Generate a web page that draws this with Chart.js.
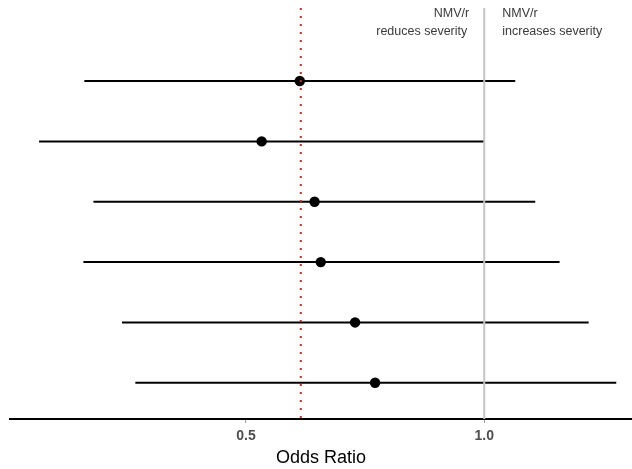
<!DOCTYPE html>
<html>
<head>
<meta charset="utf-8">
<script src="https://cdn.jsdelivr.net/npm/chart.js@4.4.1/dist/chart.umd.min.js"></script>
<style>
  html, body { margin: 0; padding: 0; background: #fff; }
  #wrap { width: 632px; height: 469px; position: relative; }
</style>
</head>
<body>
<div id="wrap"><canvas id="forest"></canvas></div>
<script>
// rows from top to bottom
var rows = [0, 1, 2, 3, 4, 5];
var oddsRatio = [0.613, 0.533, 0.644, 0.657, 0.729, 0.771];
var ciLower = [0.161, 0.066, 0.180, 0.159, 0.240, 0.268];
var ciUpper = [1.065, 1.000, 1.107, 1.158, 1.219, 1.277];
var xTicks = [0.5, 1.0];
var nullLine = 1.0;
var pooledLine = 0.615;
var leftNote = ['NMV/r', 'reduces severity'];
var rightNote = ['NMV/r', 'increases severity'];

var yMin = -1.21, yMax = 5.60;

var datasets = [];

// reference lines
datasets.push({
  data: [{x: nullLine, y: yMin}, {x: nullLine, y: yMax}],
  showLine: true, borderColor: '#c4c4c4', borderWidth: 2, pointRadius: 0
});
datasets.push({
  data: [{x: pooledLine, y: yMin}, {x: pooledLine, y: yMax}],
  showLine: true, borderColor: '#b8322a', borderWidth: 2, pointRadius: 0,
  borderDash: [2, 6]
});

// confidence intervals
rows.forEach(function(r, i) {
  datasets.push({
    data: [{x: ciLower[i], y: r}, {x: ciUpper[i], y: r}],
    showLine: true, borderColor: '#000', borderWidth: 2, pointRadius: 0
  });
});

// point estimates
datasets.push({
  data: rows.map(function(r, i) { return {x: oddsRatio[i], y: r}; }),
  showLine: false, pointRadius: 5.2, pointBackgroundColor: '#000', pointBorderWidth: 0
});

var notesPlugin = {
  id: 'notes',
  afterDatasetsDraw: function(chart) {
    var ctx = chart.ctx;
    var x = chart.scales.x.getPixelForValue(nullLine);
    ctx.save();
    ctx.font = '12.5px "Liberation Sans", Arial, sans-serif';
    ctx.fillStyle = '#3a3a3a';
    ctx.textBaseline = 'middle';
    ctx.textAlign = 'right';
    ctx.fillText(leftNote[0], x - 15, 14);
    ctx.fillText(leftNote[1], x - 17, 32);
    ctx.textAlign = 'left';
    ctx.fillText(rightNote[0], x + 18, 14);
    ctx.fillText(rightNote[1], x + 18, 32);
    ctx.restore();
  }
};

new Chart(document.getElementById('forest').getContext('2d'), {
  type: 'scatter',
  data: { datasets: datasets },
  plugins: [notesPlugin],
  options: {
    responsive: true,
    maintainAspectRatio: false,
    animation: false,
    layout: { autoPadding: false, padding: { left: 10, right: 0, top: 8, bottom: 0 } },
    plugins: { legend: { display: false }, tooltip: { enabled: false } },
    scales: {
      x: {
        type: 'linear',
        min: 0.005,
        max: 1.31,
        afterBuildTicks: function(axis) {
          axis.ticks = xTicks.map(function(v) { return {value: v}; });
        },
        border: { display: true, color: '#000', width: 2 },
        grid: { display: true, drawOnChartArea: false, drawTicks: true, tickLength: 4, tickColor: '#999' },
        ticks: {
          color: '#4d4d4d',
          font: { family: '"Liberation Sans", Arial, sans-serif', size: 14, weight: 'bold', lineHeight: 1.0 },
          padding: 6,
          maxRotation: 0,
          callback: function(v) { return Number(v).toFixed(1); }
        },
        title: {
          display: true,
          text: 'Odds Ratio',
          color: '#000',
          font: { family: '"Liberation Sans", Arial, sans-serif', size: 18, lineHeight: 1.0 },
          padding: { top: 0, bottom: 2 }
        }
      },
      y: {
        type: 'linear',
        reverse: true,
        min: yMin,
        max: yMax,
        display: false
      }
    }
  }
});
</script>
</body>
</html>
